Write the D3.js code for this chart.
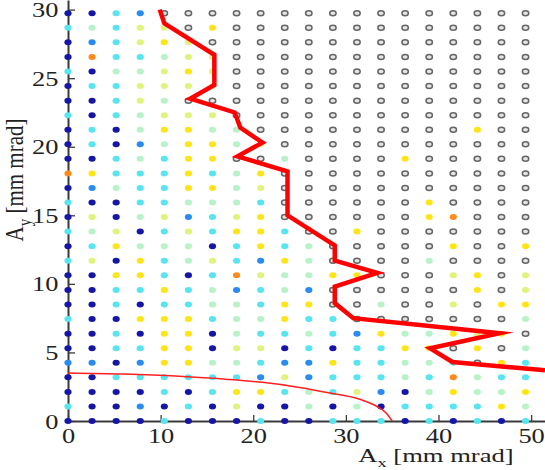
<!DOCTYPE html>
<html><head><meta charset="utf-8">
<script src="https://cdn.jsdelivr.net/npm/d3@7"></script>
<style>
html,body{margin:0;padding:0;background:#fff;}
svg{display:block;}
text{font-family:"Liberation Serif","Times New Roman",serif;fill:#222;}
</style></head>
<body>
<svg id="chart" width="545" height="470"></svg>
<script>
// Grid of initial amplitudes (mm mrad)
const axValues = [0, 2.6, 5.2, 7.8, 10.4, 13.0, 15.6, 18.2, 20.8, 23.4, 26.0, 28.6, 31.2, 33.8, 36.4, 39.0, 41.6, 44.2, 46.8, 49.4];
const ayValues = [0, 1.06, 2.12, 3.19, 4.25, 5.31, 6.37, 7.43, 8.50, 9.56, 10.62, 11.68, 12.74, 13.81, 14.87, 15.93, 16.99, 18.05, 19.12, 20.18, 21.24, 22.30, 23.36, 24.43, 25.49, 26.55, 27.61, 28.67, 29.74];
// Colour class of every grid point, one string per row, top row (largest Ay) first.
// D dark blue, B blue, C cyan, G pale green, L yellow-green, Y yellow, O orange, o lost particle
const rowCodes = [
  "DDCBoooooooooooooooo",
  "CGCLLoYooooooooooooo",
  "DBCLYLoooooooooooooo",
  "DOCCGLLooooooooooooo",
  "CDGGLYLooooooooooooo",
  "DCCLLLLooooooooooooo",
  "DDCLGooooooooooooooo",
  "CDCGLLLooooooooooooo",
  "DCDGYYGGoooooooooYoo",
  "DCDBGYYGLooooooooooo",
  "DDCGCYYooGooooYooooo",
  "OYCCCYCGYooooooooooo",
  "DBGCCYYGLooooooooooo",
  "CDDCCGGGCooooooYoooo",
  "DLDGLBCLYooooooYOooo",
  "CGLDCLCYYCooYooooooo",
  "DCYGGGDCYCGoooooYooY",
  "CLDYCGLCBYGooooGoooo",
  "DDYYCDCOLGGYYoooLYoL",
  "DDCCYCGBCGBooooooYoL",
  "DDCDCCGGCYYooGooLoYY",
  "CDDYYYCGGYCCoooooooG",
  "DDCDYYDGCCGCBYGGYLYo",
  "DDCCYYDLLDCDCCYYoYoG",
  "BBDBYYGGCBBYCCGGCoYC",
  "DDCCCCCCBLBCCCGCOGCC",
  "DDDDCDCYYCGCLBDGYGGY",
  "CDDBDCDLDDGDGDCCCCYG",
  "DDDDCDDDCDDCCCDCDCDC"
];
const classColors = {D:"#1616a6", B:"#2a8cf0", C:"#58e4f0", G:"#b8f2c8", L:"#e2f27e", Y:"#ffe41a", O:"#ff8a1e"};

// Dynamic aperture boundary (thick red line)
const boundaryAx = [9.9, 10.4, 15.8, 15.8, 13.2, 18.0, 18.6, 21.0, 18.3, 23.7, 23.7, 28.8, 28.8, 33.4, 28.8, 28.8, 30.8, 46.6, 39.1, 41.5, 51.5];
const boundaryAy = [30.0, 29.0, 26.7, 24.5, 23.5, 22.5, 21.4, 20.3, 19.3, 18.2, 15.0, 12.8, 11.7, 10.8, 9.8, 8.6, 7.5, 6.4, 5.3, 4.3, 3.7];
// Thin red curve
const curveAx = [0, 6, 12, 17, 21, 25, 28.3, 31.5, 33.4, 34.4, 35.0];
const curveAy = [3.5, 3.42, 3.26, 3.05, 2.82, 2.45, 2.04, 1.58, 1.04, 0.55, 0];

const xTicks = [0, 10, 20, 30, 40, 50];
const yTicks = [0, 5, 10, 15, 20, 25, 30];

const svg = d3.select("#chart");
const x = d3.scaleLinear().domain([0, 51.5]).range([68, 545]);
const y = d3.scaleLinear().domain([0, 30.7]).range([421, 0]);

// Axes (ticks pointing inward)
const xAxis = d3.axisBottom(x).tickValues(xTicks).tickSizeInner(-6).tickSizeOuter(0).tickPadding(10).tickFormat(d3.format("d"));
const yAxis = d3.axisLeft(y).tickValues(yTicks).tickSizeInner(-7).tickSizeOuter(0).tickPadding(8).tickFormat(d3.format("d"));

const gx = svg.append("g").attr("transform", `translate(0,${y(0)})`).call(xAxis);
const gy = svg.append("g").attr("transform", `translate(${x(0)},0)`).call(yAxis);
[gx, gy].forEach(g => {
  g.select(".domain").attr("stroke", "#3a3a3a").attr("stroke-width", 2);
  g.selectAll(".tick line").attr("stroke", "#3a3a3a").attr("stroke-width", 1.3);
  g.selectAll(".tick text").attr("font-size", 22).attr("fill", "#2a2a2a")
    .attr("transform", "scale(1.2,1)");
});
gx.selectAll(".tick text").attr("dy", "0.71em").attr("y", 6);

// Points
const pts = [];
rowCodes.forEach((row, i) => {
  const ay = ayValues[ayValues.length - 1 - i];
  row.split("").forEach((c, j) => pts.push({ax: axValues[j], ay, c}));
});
const plot = svg.append("g");
plot.selectAll("ellipse.lost").data(pts.filter(p => p.c === "o")).join("ellipse")
  .attr("class", "lost")
  .attr("cx", d => x(d.ax)).attr("cy", d => y(d.ay))
  .attr("rx", 3.2).attr("ry", 2.5)
  .attr("fill", "#e6e6e6").attr("stroke", "#666").attr("stroke-width", 1.5);
plot.selectAll("ellipse.kept").data(pts.filter(p => p.c !== "o")).join("ellipse")
  .attr("class", "kept")
  .attr("cx", d => x(d.ax)).attr("cy", d => y(d.ay))
  .attr("rx", 3.6).attr("ry", 3.0)
  .attr("fill", d => classColors[d.c]);

// Thin red curve
const curvePts = curveAx.map((v, i) => [v, curveAy[i]]);
plot.append("path").datum(curvePts)
  .attr("d", d3.line().x(d => x(d[0])).y(d => y(d[1])).curve(d3.curveMonotoneX))
  .attr("fill", "none").attr("stroke", "#ff2020").attr("stroke-width", 1.5);

// Thick red boundary
const bPts = boundaryAx.map((v, i) => [v, boundaryAy[i]]);
plot.append("path").datum(bPts)
  .attr("d", d3.line().x(d => x(d[0])).y(d => y(d[1])))
  .attr("fill", "none").attr("stroke", "#ff0000").attr("stroke-width", 4.5)
  .attr("stroke-linejoin", "miter").attr("stroke-miterlimit", 10);

// Axis labels
const xl = svg.append("text").attr("text-anchor", "middle").attr("font-size", 19)
  .attr("transform", "translate(436,462) scale(1.4,1)");
xl.append("tspan").text("A");
xl.append("tspan").attr("dy", 5).attr("font-size", 13).text("x");
xl.append("tspan").attr("dy", -5).text(" [mm mrad]");

const yl = svg.append("text").attr("text-anchor", "middle").attr("font-size", 21)
  .attr("transform", "translate(23,180) scale(1.2,1) rotate(-90)");
yl.append("tspan").text("A");
yl.append("tspan").attr("dy", 7).attr("font-size", 15).text("y");
yl.append("tspan").attr("dy", -7).text(" [mm mrad]");
</script>
</body></html>
